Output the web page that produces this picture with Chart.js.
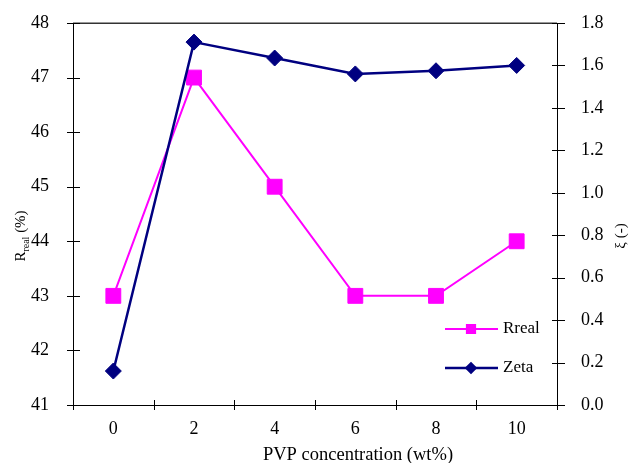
<!DOCTYPE html>
<html>
<head>
<meta charset="utf-8">
<script src="https://cdn.jsdelivr.net/npm/chart.js@4/dist/chart.umd.min.js"></script>
<style>
  html, body { margin: 0; padding: 0; background: #ffffff; }
  #wrap { width: 641px; height: 463px; position: relative; }
</style>
</head>
<body>
<div id="wrap"><canvas id="c" width="641" height="463"></canvas></div>
<script>
// ---- data ----
const categories = ['0', '2', '4', '6', '8', '10'];
const rrealValues = [43, 47, 45, 43, 43, 44];
const zetaValues = [0.16, 1.71, 1.635, 1.56, 1.575, 1.60];
const leftTicks = [41, 42, 43, 44, 45, 46, 47, 48];
const rightTicks = [0.0, 0.2, 0.4, 0.6, 0.8, 1.0, 1.2, 1.4, 1.6, 1.8];
const seriesNames = ['Rreal', 'Zeta'];
const xTitle = 'PVP concentration (wt%)';
const rightTitle = 'ξ (-)';

const FONT = "'Liberation Serif', 'Times New Roman', serif";
const MAGENTA = '#FF00FF';
const NAVY = '#000080';

Chart.defaults.font.family = FONT;
Chart.defaults.font.size = 18;
Chart.defaults.color = '#000000';

// crossing tick marks + top frame
const frameTicks = {
  id: 'frameTicks',
  afterDraw(chart) {
    const ctx = chart.ctx;
    const a = chart.chartArea;
    ctx.save();
    ctx.beginPath();
    ctx.strokeStyle = '#333';
    ctx.lineWidth = 1.5;
    ctx.moveTo(a.left, a.top + 0.25);
    ctx.lineTo(a.right, a.top + 0.25);
    ctx.stroke();
    ctx.strokeStyle = '#000';
    ctx.lineWidth = 1;
    const y = chart.scales.y, y1 = chart.scales.y1, x = chart.scales.x;
    ctx.beginPath();
    y.ticks.forEach(t => {
      const p = Math.round(y.getPixelForValue(t.value)) + 0.5;
      ctx.moveTo(a.left - 6, p); ctx.lineTo(a.left + 7, p);
    });
    y1.ticks.forEach(t => {
      const p = Math.round(y1.getPixelForValue(t.value)) + 0.5;
      ctx.moveTo(a.right - 5, p); ctx.lineTo(a.right + 8, p);
    });
    for (let i = 0; i <= categories.length; i++) {
      const p = Math.round(x.getPixelForValue(i - 0.5)) + 0.5;
      ctx.moveTo(p, a.bottom - 5); ctx.lineTo(p, a.bottom + 5);
    }
    ctx.stroke();
    ctx.restore();
  }
};

// titles and legend
const annotations = {
  id: 'annotations',
  afterDraw(chart) {
    const ctx = chart.ctx;
    ctx.save();
    ctx.fillStyle = '#000';
    ctx.font = '18.5px ' + FONT;
    ctx.textAlign = 'center';
    ctx.textBaseline = 'alphabetic';
    ctx.fillText(xTitle, 358, 460);

    ctx.save();
    ctx.translate(25, 236);
    ctx.rotate(-Math.PI / 2);
    const bigF = '15px ' + FONT, smallF = '10px ' + FONT;
    ctx.font = bigF; const wR = ctx.measureText('R').width;
    const wP = ctx.measureText(' (%)').width;
    ctx.font = smallF; const wS = ctx.measureText('real').width;
    let sx = -(wR + wS + wP) / 2;
    ctx.textAlign = 'left';
    ctx.font = bigF; ctx.fillText('R', sx, 0); sx += wR;
    ctx.font = smallF; ctx.fillText('real', sx, 3.5); sx += wS;
    ctx.font = bigF; ctx.fillText(' (%)', sx, 0);
    ctx.restore();

    ctx.save();
    ctx.translate(625, 236);
    ctx.rotate(-Math.PI / 2);
    ctx.font = '15px ' + FONT;
    ctx.textAlign = 'center';
    ctx.fillText(rightTitle, 0, 0);
    ctx.restore();

    const items = chart.data.datasets;
    const ly = [329, 368];
    items.forEach((ds, i) => {
      const yy = ly[i];
      ctx.strokeStyle = ds.borderColor;
      ctx.lineWidth = ds.borderWidth;
      ctx.beginPath();
      ctx.moveTo(445, yy); ctx.lineTo(498, yy);
      ctx.stroke();
      ctx.fillStyle = ds.backgroundColor;
      Chart.helpers.drawPoint(ctx, {
        pointStyle: ds.pointStyle,
        radius: ds.pointStyle === 'rect' ? 5.8 : 4.5,
        rotation: 0, borderWidth: 1
      }, 471, yy);
      ctx.fill();
      ctx.fillStyle = '#000';
      ctx.font = '17px ' + FONT;
      ctx.textAlign = 'left';
      ctx.textBaseline = 'middle';
      ctx.fillText(ds.label, 503, yy);
    });
    ctx.restore();
  }
};

new Chart(document.getElementById('c'), {
  type: 'line',
  data: {
    labels: categories,
    datasets: [
      {
        label: seriesNames[0],
        data: rrealValues,
        yAxisID: 'y',
        borderColor: MAGENTA,
        backgroundColor: MAGENTA,
        borderWidth: 2,
        pointStyle: 'rect',
        pointRadius: 10.5,
        pointBorderWidth: 1,
        tension: 0,
        order: 1
      },
      {
        label: seriesNames[1],
        data: zetaValues,
        yAxisID: 'y1',
        borderColor: NAVY,
        backgroundColor: NAVY,
        borderWidth: 2.5,
        pointStyle: 'rectRot',
        pointRadius: 8,
        pointBorderWidth: 1,
        tension: 0,
        order: 0
      }
    ]
  },
  options: {
    responsive: false,
    animation: false,
    layout: { padding: { top: 23, left: 0, right: 0, bottom: 0 } },
    plugins: { legend: { display: false }, tooltip: { enabled: false } },
    scales: {
      x: {
        type: 'category',
        offset: true,
        grid: { display: false, offset: true },
        border: { display: true, color: '#000', width: 1 },
        ticks: { padding: 5, font: { size: 18 } },
        afterFit(s) { s.height = 58; s.paddingLeft = 0; s.paddingRight = 0; }
      },
      y: {
        position: 'left',
        min: leftTicks[0],
        max: leftTicks[leftTicks.length - 1],
        grid: { display: false },
        border: { display: true, color: '#000', width: 1 },
        afterBuildTicks(s) { s.ticks = leftTicks.map(v => ({ value: v })); },
        ticks: { padding: 16, font: { size: 18 } },
        afterFit(s) { s.width = 73; s.paddingTop = 0; s.paddingBottom = 0; }
      },
      y1: {
        position: 'right',
        min: rightTicks[0],
        max: rightTicks[rightTicks.length - 1],
        grid: { display: false },
        border: { display: true, color: '#000', width: 1 },
        afterBuildTicks(s) { s.ticks = rightTicks.map(v => ({ value: v })); },
        ticks: { padding: 16, font: { size: 18 }, callback: v => Number(v).toFixed(1) },
        afterFit(s) { s.width = 84; s.paddingTop = 0; s.paddingBottom = 0; }
      }
    }
  },
  plugins: [frameTicks, annotations]
});
</script>
</body>
</html>
